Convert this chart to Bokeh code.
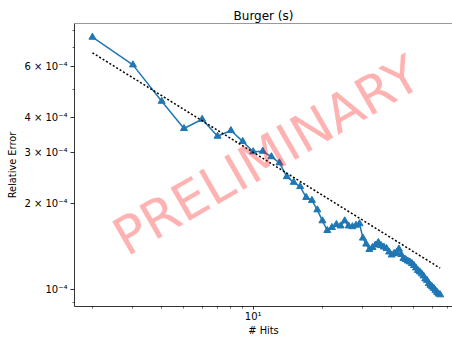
from bokeh.plotting import figure
from bokeh.models import FixedTicker, CustomJSTickFormatter, Label, Range1d, Span
from bokeh.embed import file_html
from bokeh.resources import INLINE

# ---- data ----
hits = [2, 3, 4, 5, 6, 7, 8, 9, 10, 11, 12, 13, 14, 15, 16, 17, 18, 19, 20, 21,
        22, 23, 24, 25, 26, 27, 28, 29, 30, 31, 32, 33, 34, 35, 36, 37, 38, 39, 40, 41,
        42, 43, 44, 45, 46, 47, 48, 49, 50, 51, 52, 53, 54, 55, 56, 57, 58, 59, 60, 61,
        62, 63, 64, 65]
rel_error = [7.59e-4, 6.08e-4, 4.54e-4, 3.65e-4, 3.93e-4, 3.43e-4, 3.59e-4, 3.29e-4, 3.03e-4, 3.04e-4,
             2.91e-4, 2.77e-4, 2.48e-4, 2.37e-4, 2.29e-4, 2.10e-4, 2.05e-4, 1.90e-4, 1.74e-4, 1.61e-4,
             1.65e-4, 1.69e-4, 1.67e-4, 1.74e-4, 1.67e-4, 1.66e-4, 1.68e-4, 1.70e-4, 1.515e-4, 1.444e-4,
             1.382e-4, 1.405e-4, 1.433e-4, 1.462e-4, 1.427e-4, 1.410e-4, 1.393e-4, 1.355e-4, 1.323e-4, 1.339e-4,
             1.349e-4, 1.388e-4, 1.328e-4, 1.287e-4, 1.276e-4, 1.261e-4, 1.251e-4, 1.236e-4, 1.216e-4, 1.192e-4,
             1.169e-4, 1.155e-4, 1.137e-4, 1.118e-4, 1.092e-4, 1.079e-4, 1.053e-4, 1.037e-4, 1.024e-4, 1.012e-4,
             0.996e-4, 0.980e-4, 0.968e-4, 0.961e-4]
fit_hits = [2, 65]
fit_error = [6.70e-4, 1.19e-4]

x_major_ticks = [10]
x_major_labels = ["10\u00b9"]
x_minor_ticks = [2, 3, 4, 5, 6, 7, 8, 9, 20, 30, 40, 50, 60, 70]
y_major_ticks = [1e-4, 2e-4, 3e-4, 4e-4, 6e-4]
y_major_labels = ["10\u207b\u2074", "2 \u00d7 10\u207b\u2074", "3 \u00d7 10\u207b\u2074",
                  "4 \u00d7 10\u207b\u2074", "6 \u00d7 10\u207b\u2074"]
y_minor_ticks = [9e-5, 5e-4, 7e-4, 8e-4]

title_text = "Burger (s)"
x_label = "# Hits"
y_label = "Relative Error"
watermark = "PRELIMINARY"

FONT = "DejaVu Sans"
BLUE = "#1f77b4"
X_LO, X_HI = 1.671, 73.55
Y_LO, Y_HI = 8.749e-5, 8.474e-4

p = figure(width=452, height=338, output_backend="svg", toolbar_location=None,
           x_axis_type="log", y_axis_type="log",
           x_range=Range1d(X_LO, X_HI), y_range=Range1d(Y_LO, Y_HI),
           min_border_left=74, min_border_right=0, min_border_top=23, min_border_bottom=31)
p.background_fill_color = "white"
p.border_fill_color = "white"
p.outline_line_color = None
p.grid.visible = False

p.title.text = title_text
p.title.align = "center"
p.title.text_font = FONT
p.title.text_font_size = "12px"
p.title.text_font_style = "normal"
p.title.text_color = "black"
p.title.standoff = 2

def js_fmt(ticks, labels):
    return CustomJSTickFormatter(args=dict(t=ticks, l=labels), code="""
        for (let i = 0; i < t.length; i++) {
            if (Math.abs(t[i] - tick) / t[i] < 1e-6) return l[i];
        }
        return "";
    """)

for ax, maj, lab, mnr, txt in [(p.xaxis[0], x_major_ticks, x_major_labels, x_minor_ticks, x_label),
                               (p.yaxis[0], y_major_ticks, y_major_labels, y_minor_ticks, y_label)]:
    ax.ticker = FixedTicker(ticks=maj, minor_ticks=mnr)
    ax.formatter = js_fmt(maj, lab)
    ax.axis_label = txt
    ax.axis_label_text_font = FONT
    ax.axis_label_text_font_size = "9.8px"
    ax.axis_label_text_font_style = "normal"
    ax.axis_label_text_color = "black"
    ax.major_label_text_font = FONT
    ax.major_label_text_font_size = "10px"
    ax.major_label_text_color = "black"
    ax.axis_line_width = 0.8
    ax.axis_line_color = "black"
    ax.major_tick_line_width = 0.8
    ax.major_tick_line_color = "black"
    ax.minor_tick_line_width = 0.6
    ax.minor_tick_line_color = "black"
    ax.major_tick_in = 0
    ax.minor_tick_in = 0
    ax.minor_tick_out = 2
p.xaxis[0].major_tick_out = 3
p.xaxis[0].major_label_standoff = 1
p.xaxis[0].axis_label_standoff = 0
p.yaxis[0].major_tick_out = 4
p.yaxis[0].major_label_standoff = 3
p.yaxis[0].axis_label_standoff = 3

# top spine
p.add_layout(Span(location=Y_HI, dimension="width", line_color="black", line_width=0.8))

p.line(hits, rel_error, line_color=BLUE, line_width=1.5)
p.scatter(hits, rel_error, marker="triangle", size=7, fill_color=BLUE, line_color=BLUE, line_width=1)
p.line(fit_hits, fit_error, line_color="black", line_width=1.5, line_dash="2 2")

p.add_layout(Label(x=11.43, y=2.94e-4, text=watermark, angle=30, angle_units="deg",
                   text_align="center", text_baseline="middle", text_font=FONT,
                   text_font_size="52px", text_color="red", text_alpha=0.3))

open("out.html", "w").write(file_html(p, INLINE))
